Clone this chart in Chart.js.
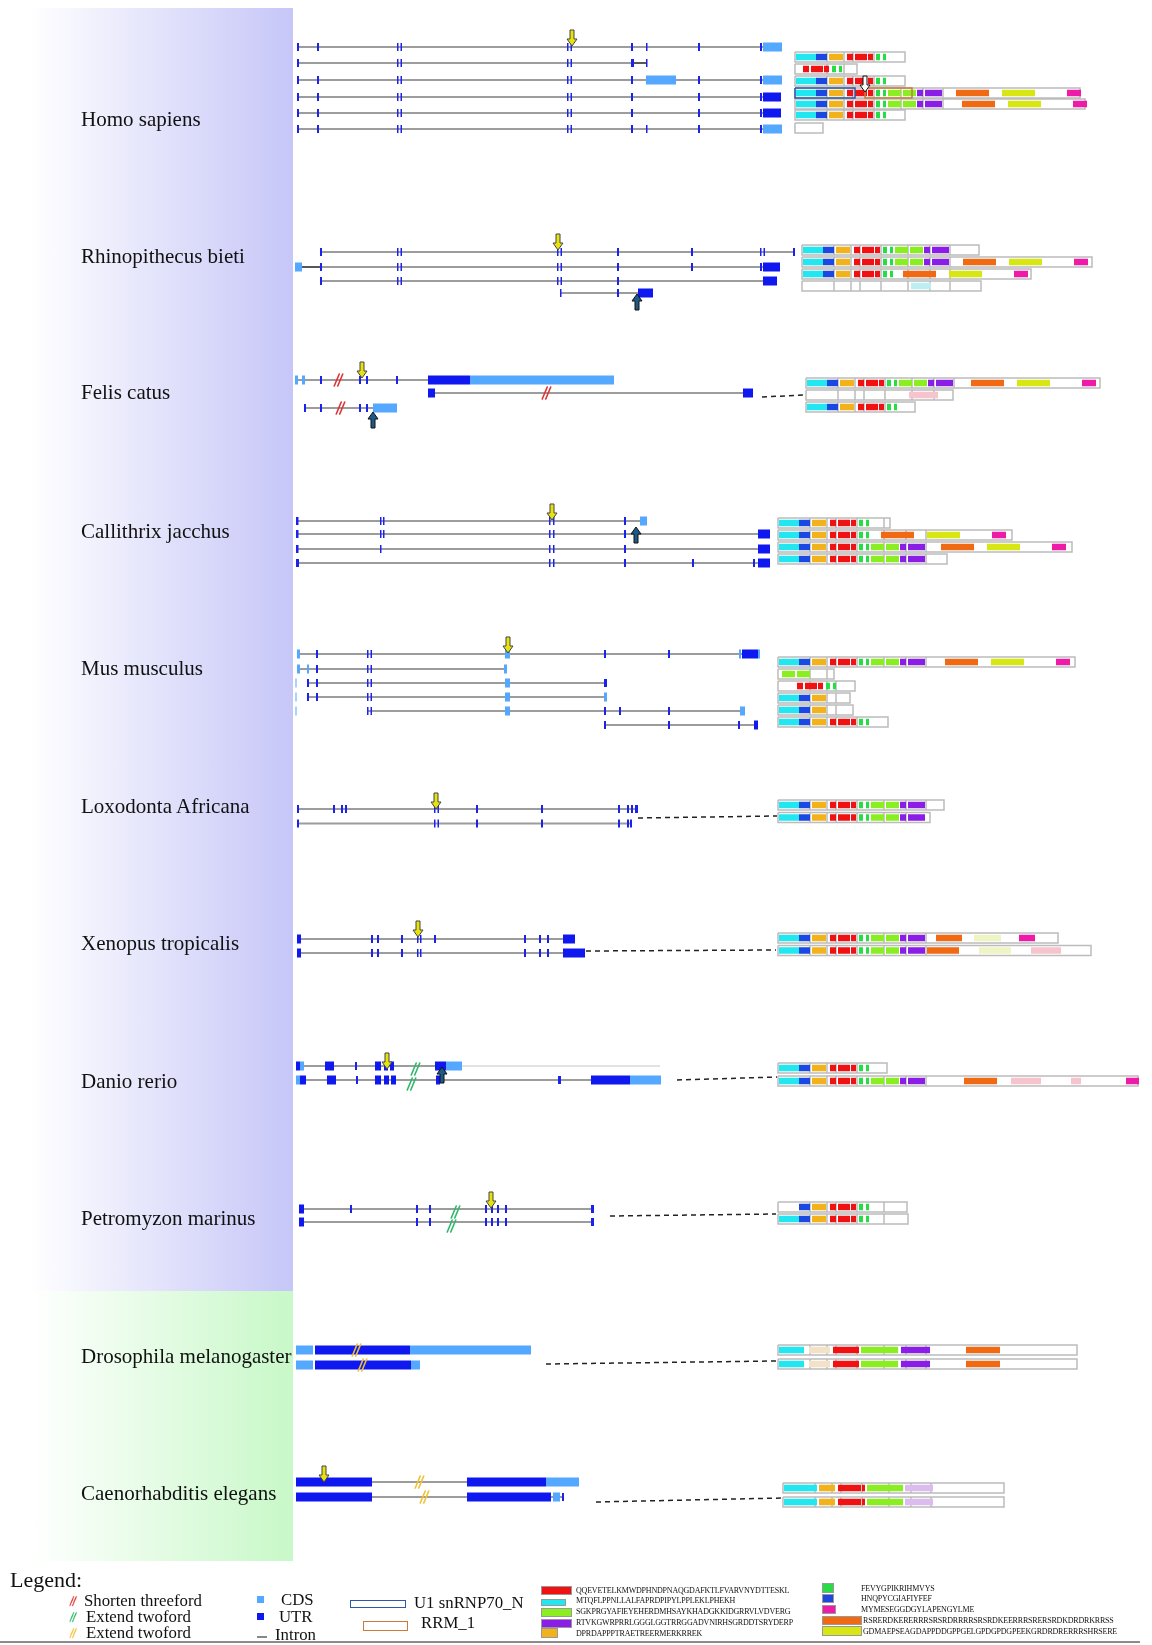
<!DOCTYPE html>
<html>
<head>
<meta charset="utf-8">
<script src="https://cdn.jsdelivr.net/npm/chart.js@4.4.1/dist/chart.umd.min.js"></script>
<style>
  body { margin: 0; width: 1152px; height: 1645px; position: relative; background: #fff; overflow: hidden;
         font-family: "Liberation Serif", "Times New Roman", serif; color: #111; }
  #bandA { position: absolute; left: 30px; top: 8px; width: 263px; height: 1283px; background: linear-gradient(to right, #ffffff, #c6c6f8); }
  #bandB { position: absolute; left: 30px; top: 1291px; width: 263px; height: 270px; background: linear-gradient(to right, #ffffff, #c8f8c8); }
  .sp { position: absolute; left: 81px; font-size: 21px; line-height: 21px; transform: translateY(-50%); white-space: nowrap; }
  #chart { position: absolute; left: 0; top: 0; }
  .lg { position: absolute; white-space: nowrap; font-size: 16.8px; line-height: 17px; transform: translateY(-50%); }
  .seq { position: absolute; white-space: nowrap; font-size: 8px; line-height: 8px; transform: translateY(-50%); letter-spacing: -0.2px; }
  .sw { position: absolute; box-sizing: border-box; border: 1px solid #999; }
  .bx { position: absolute; box-sizing: border-box; }
  #rule { position: absolute; left: 0; top: 1641px; width: 1140px; height: 2px; background: #8c8c8c; }
</style>
</head>
<body>
<div id="bandA"></div>
<div id="bandB"></div>
<canvas id="chart" width="1152" height="1645"></canvas>
<div id="legend"></div>
<div id="rule"></div>
<script>
const speciesNames = ["Homo sapiens", "Rhinopithecus bieti", "Felis catus", "Callithrix jacchus", "Mus musculus",
  "Loxodonta Africana", "Xenopus tropicalis", "Danio rerio", "Petromyzon marinus", "Drosophila melanogaster", "Caenorhabditis elegans"];
const speciesLabelY = [119, 256, 392, 531, 668, 806, 943, 1081, 1218, 1356, 1493];

// transcripts: [row y, intron start, intron end, exons...]; exon = [start, end, 'd' dark | 'l' light]
const homoTx = [
  [47, 297, 782, [297,299,'d'],[317,319,'d'],[397,398.5,'d'],[400.5,402,'d'],[567,568.5,'d'],[570.5,572,'d'],[631,633,'d'],[646,647.5,'d'],[698,700,'d'],[760,762,'d'],[763,782,'l']],
  [63, 297, 634, [297,299,'d'],[397,398.5,'d'],[400.5,402,'d'],[567,568.5,'d'],[570.5,572,'d'],[631,634,'d'],[646,647.5,'d']],
  [80, 297, 782, [297,299,'d'],[317,319,'d'],[397,398.5,'d'],[400.5,402,'d'],[567,568.5,'d'],[570.5,572,'d'],[631,633,'d'],[646,676,'l'],[698,700,'d'],[760,762,'d'],[763,782,'l']],
  [97, 297, 781, [297,299,'d'],[317,319,'d'],[397,398.5,'d'],[400.5,402,'d'],[567,568.5,'d'],[570.5,572,'d'],[631,633,'d'],[698,700,'d'],[760,762,'d'],[763,781,'d']],
  [113, 297, 781, [297,299,'d'],[317,319,'d'],[397,398.5,'d'],[400.5,402,'d'],[567,568.5,'d'],[570.5,572,'d'],[631,633,'d'],[698,700,'d'],[760,762,'d'],[763,781,'d']],
  [129, 297, 782, [297,299,'d'],[317,319,'d'],[397,398.5,'d'],[400.5,402,'d'],[567,568.5,'d'],[570.5,572,'d'],[631,633,'d'],[646,647.5,'d'],[698,700,'d'],[760,762,'d'],[763,782,'l']]
];
const rhinoTx = [
  [252, 321, 794, [320,322,'d'],[397,398.5,'d'],[400.5,402,'d'],[557,558.5,'d'],[560.5,562,'d'],[617,619,'d'],[691,693,'d'],[760,761.5,'d'],[763.5,765,'d'],[793,795,'d']],
  [267, 321, 780, [295,302,'l'],[320,322,'d'],[397,398.5,'d'],[400.5,402,'d'],[557,558.5,'d'],[560.5,562,'d'],[617,619,'d'],[691,693,'d'],[760,762,'d'],[763,780,'d']],
  [281, 321, 777, [320,322,'d'],[397,398.5,'d'],[400.5,402,'d'],[557,558.5,'d'],[560.5,562,'d'],[617,619,'d'],[763,777,'d']],
  [293, 560, 640, [560,561.5,'d'],[617,619,'d'],[638,653,'d']]
];
const felisTx = [
  [380, 295, 614, [295,298,'l'],[302,305,'l'],[320,322,'d'],[359,361,'d'],[366,368,'d'],[396,398,'d'],[428,470,'d'],[470,614,'l']],
  [393, 428, 753, [428,435,'d'],[743,753,'d']],
  [408, 305, 390, [304,306,'d'],[320,322,'d'],[359,361,'d'],[366,368,'d'],[373,397,'l']]
];
const callTx = [
  [521, 297, 647, [296,298.5,'d'],[380,381.5,'d'],[383,384.5,'d'],[549,550.5,'d'],[553,554.5,'d'],[624,626,'d'],[640,647,'l']],
  [534, 297, 770, [296,298.5,'d'],[380,381.5,'d'],[383,384.5,'d'],[549,550.5,'d'],[553,554.5,'d'],[624,626,'d'],[758,770,'d']],
  [549, 297, 770, [296,298.5,'d'],[380,381.5,'d'],[549,550.5,'d'],[553,554.5,'d'],[624,626,'d'],[758,770,'d']],
  [563, 297, 770, [296,299,'d'],[549,550.5,'d'],[553,554.5,'d'],[624,626,'d'],[692,694,'d'],[753,755,'d'],[758,770,'d']]
];
const musTx = [
  [654, 297, 760, [297,300,'l'],[316,318,'d'],[367,368.5,'d'],[370.5,372,'d'],[505,510,'l'],[604,606,'d'],[668,670,'d'],[739,741,'l'],[742,758,'d'],[758,760,'l']],
  [669, 297, 505, [297,300,'l'],[307,309,'l'],[316,318,'d'],[367,368.5,'d'],[370.5,372,'d'],[504,507,'l']],
  [683, 307, 606, [295.5,296.5,'l'],[307,309,'d'],[316,318,'d'],[367,368.5,'d'],[370.5,372,'d'],[505,510,'l'],[604,607,'d']],
  [697, 307, 606, [295.5,296.5,'l'],[307,309,'d'],[316,318,'d'],[367,368.5,'d'],[370.5,372,'d'],[505,510,'l'],[604,607,'l']],
  [711, 367, 745, [295.5,296.5,'l'],[367,368.5,'d'],[370.5,372,'d'],[505,510,'l'],[604,606,'d'],[619,621,'d'],[668,670,'d'],[740,745,'l']],
  [725, 605, 758, [604,606,'d'],[668,670,'d'],[738,740,'d'],[754,758,'d']]
];
const loxoTx = [
  [809, 298, 638, [297,299,'d'],[333,335,'d'],[341,343,'d'],[345,347,'d'],[434,435.5,'d'],[437.5,439,'d'],[476,478,'d'],[541,543,'d'],[618,620,'d'],[627,629,'d'],[631,633,'d'],[635,638,'d']],
  [823.5, 298, 631, [297,299,'d'],[434,435.5,'d'],[437.5,439,'d'],[476,478,'d'],[541,543,'d'],[618,620,'d'],[627,629,'d'],[630,632,'d']]
];
const xenoTx = [
  [939, 298, 575, [297,301,'d'],[371,373,'d'],[377,379,'d'],[401,403,'d'],[417,418.5,'d'],[420,421.5,'d'],[434,436,'d'],[524,526,'d'],[539,541,'d'],[547,549,'d'],[563,575,'d']],
  [953, 298, 585, [297,301,'d'],[371,373,'d'],[377,379,'d'],[401,403,'d'],[417,418.5,'d'],[420,421.5,'d'],[524,526,'d'],[539,541,'d'],[547,549,'d'],[563,585,'d']]
];
const danioTx = [
  [1066, 296, 462, [296,300,'d'],[300,304,'l'],[325,334,'d'],[355,357,'d'],[375,381,'d'],[384,388,'d'],[390,394,'d'],[435,446,'d'],[446,462,'l']],
  [1080, 296, 661, [296,300,'l'],[300,306,'d'],[327,336,'d'],[356,358,'d'],[375,381,'d'],[384,389,'d'],[391,396,'d'],[436,440,'d'],[558,561,'d'],[591,630,'d'],[630,661,'l']]
];
const petroTx = [
  [1209, 300, 593, [299,304,'d'],[350,352,'d'],[416,418,'d'],[429,431,'d'],[485,487,'d'],[491,493,'d'],[497,499,'d'],[505,507,'d'],[591,594,'d']],
  [1222, 300, 593, [299,304,'d'],[416,418,'d'],[429,431,'d'],[485,487,'d'],[491,493,'d'],[497,499,'d'],[505,507,'d'],[591,594,'d']]
];
const drosoTx = [
  [1350, 313, 313, [296,313,'l'],[315,410,'d'],[410,531,'l']],
  [1365, 313, 313, [296,313,'l'],[315,411,'d'],[411,420,'l']]
];
const caenoTx = [
  [1482, 372, 467, [296,372,'d'],[467,546,'d'],[546,579,'l']],
  [1497, 372, 563, [296,372,'d'],[467,551,'d'],[553,560,'l'],[562,564,'d']]
];
const allTx = [homoTx, rhinoTx, felisTx, callTx, musTx, loxoTx, xenoTx, danioTx, petroTx, drosoTx, caenoTx];

// short dark link lines and faint lines: [x1, x2, y]
const darkLinks = [[634, 647, 63], [302, 320, 267]];
const faintLinks = [[462, 660, 1066]];
// dashed connectors gene -> protein: [x1, y1, x2, y2]
const connectors = [[762, 397, 805, 395], [638, 818, 777, 816], [586, 951, 776, 950], [677, 1080, 777, 1077],
  [610, 1216, 776, 1214], [546, 1364, 776, 1361], [596, 1502, 782, 1498]];

// markers: [x, y]
const yellowArrows = [[572, 38], [558, 242], [362, 370], [552, 512], [508, 645], [436, 801], [418, 929], [387, 1061], [491, 1200], [324, 1474]];
const blueArrows = [[637, 302], [373, 420], [636, 535], [442, 1075]];
const hollowArrows = [[865, 84]];
const redSlashes = [[339, 380], [547, 393], [341, 408]];
const greenSlashes = [[416, 1069], [412, 1084], [456, 1212], [452, 1226]];
const yellowSlashes = [[357, 1350], [363, 1365], [420, 1482], [425, 1497]];

// protein domain layout of the longest isoform: [start, end, domain] relative to protein start
const FULL = [[0,20,'cy'],[20,31,'bl'],[33,47,'or'],[51,57,'rd'],[59,71,'rd'],[72,77,'rd'],[80,84,'gr'],[87,90,'gr'],
  [92,105,'li'],[107,120,'li'],[121,127,'pu'],[129,146,'pu'],[160,193,'og'],[206,239,'ye'],[271,285,'mg']];
const dividers = [32, 49, 58, 79, 106, 128, 148];
function part(from, to, shift) { return FULL.slice(from, to).map(d => [d[0] + shift, d[1] + shift, d[2]]); }

// proteins: [x start, row y, length, domains]
const homoProt = [
  [795, 57, 110, part(0, 8, 0)],
  [795, 69, 62, part(3, 8, -44)],
  [795, 81, 110, part(0, 8, 0)],
  [795, 93, 285, part(0, 15, 0)],
  [795, 104, 290, part(0, 12, 0).concat(part(12, 15, 6))],
  [795, 115, 110, part(0, 8, 0)],
  [795, 128, 28, []]
];
const rhinoProt = [
  [802, 250, 177, part(0, 12, 0)],
  [802, 262, 290, part(0, 15, 0)],
  [802, 274, 229, part(0, 8, 0).concat(part(12, 15, -60))],
  [802, 286, 179, [[108, 128, 'pc']]]
];
const felisProt = [
  [806, 383, 294, part(0, 12, 0).concat(part(12, 15, 4))],
  [806, 395, 147, [[102, 131, 'pk']]],
  [806, 407, 109, part(0, 8, 0)]
];
const callProt = [
  [778, 523, 112, part(0, 8, 0)],
  [778, 535, 234, part(0, 8, 0).concat(part(12, 15, -58))],
  [778, 547, 294, part(0, 12, 0).concat(part(12, 15, 2))],
  [778, 559, 169, part(0, 12, 0)]
];
const musProt = [
  [778, 662, 297, part(0, 12, 0).concat(part(12, 15, 6))],
  [778, 674, 56, part(8, 10, -89)],
  [778, 686, 77, part(3, 8, -33)],
  [778, 698, 72, part(0, 3, 0)],
  [778, 710, 75, part(0, 3, 0)],
  [778, 722, 110, part(0, 8, 0)]
];
const loxoProt = [
  [778, 805, 166, part(0, 12, 0)],
  [778, 817.5, 152, part(0, 12, 0)]
];
const xenoProt = [
  [778, 938, 280, part(0, 12, 0).concat([[157, 183, 'og'], [195, 222, 'py'], [240, 256, 'mg']])],
  [778, 950.5, 313, part(0, 12, 0).concat([[148, 180, 'og'], [200, 232, 'py'], [252, 282, 'pk']])]
];
const danioProt = [
  [778, 1068, 109, part(0, 8, 0)],
  [778, 1081, 360, part(0, 12, 0).concat([[185, 218, 'og'], [232, 262, 'pk'], [292, 302, 'pk'], [347, 360, 'mg']])]
];
const petroProt = [
  [778, 1207, 129, part(1, 8, 0)],
  [778, 1219, 130, part(0, 8, 0)]
];
const drosoDomains = [[0, 25, 'cy'], [30, 51, 'pe'], [54, 80, 'rd'], [82, 119, 'li'], [122, 151, 'pu'], [187, 221, 'og']];
const drosoProt = [
  [778, 1350, 299, drosoDomains],
  [778, 1364, 299, drosoDomains]
];
const caenoDomains = [[0, 33, 'cy'], [35, 51, 'or'], [54, 77, 'rd'], [78, 81, 'rd'], [83, 119, 'li'], [121, 149, 'lc']];
const caenoProt = [
  [783, 1488, 221, caenoDomains],
  [783, 1502, 221, caenoDomains]
];
const allProt = [homoProt, rhinoProt, felisProt, callProt, musProt, loxoProt, xenoProt, danioProt, petroProt, drosoProt, caenoProt];

// domain boxes on the first human long isoform: [x1, x2, y, colour key]
const domainBoxes = [[795, 855, 93, 'u1'], [865, 912, 93, 'rrm']];

const colors = {
  cy: "#22e6f0", bl: "#1a48e0", or: "#f2b21c", rd: "#f01212", gr: "#26dd46", li: "#8aee22", pu: "#8a1ee6",
  og: "#f06a14", ye: "#d8e614", mg: "#ee1aa8", pc: "#bdeff2", pk: "#f6c4cc", pe: "#f4e2c8", py: "#eef4c4", lc: "#dcbcee",
  u1: "#2a5aa8", rrm: "#cc7a3a"
};

// ---------- build datasets ----------
const datasets = [];
function addSegments(list, color, width, order, dash) {
  const pts = [];
  list.forEach(s => {
    pts.push({ x: s[0], y: s[2] }, { x: s[1], y: s[2] }, { x: s[1], y: null });
  });
  datasets.push({ data: pts, borderColor: color, borderWidth: width, borderCapStyle: "butt", borderJoinStyle: "miter",
    borderDash: dash || [10000, 0], pointRadius: 0, fill: false, spanGaps: false, tension: 0, order: order });
}
function addPolys(polys, color, width, order, dash) {
  const pts = [];
  polys.forEach(p => { p.forEach(q => pts.push({ x: q[0], y: q[1] })); pts.push({ x: p[p.length - 1][0], y: null }); });
  datasets.push({ data: pts, borderColor: color, borderWidth: width, borderCapStyle: "butt", borderJoinStyle: "miter",
    borderDash: dash || [10000, 0], pointRadius: 0, fill: false, spanGaps: false, tension: 0, order: order });
}
function addMarks(list, img, order) {
  datasets.push({ data: list.map(p => ({ x: p[0], y: p[1] })), showLine: false, pointStyle: img, pointRadius: 6,
    borderWidth: 0, order: order });
}

const introns = [], darkSmall = [], darkBig = [], light = [];
allTx.forEach(sp => sp.forEach(t => {
  const y = t[0];
  if (t[2] > t[1]) introns.push([t[1], t[2], y]);
  t.slice(3).forEach(e => {
    const seg = [e[0], e[1], y];
    if (e[2] === 'l') light.push(seg);
    else if (e[1] - e[0] <= 3) darkSmall.push(seg);
    else darkBig.push(seg);
  });
}));
addSegments(introns, "#9c9c9c", 2, 20);
addSegments(faintLinks, "#e2e2e2", 2, 20);
addSegments(darkLinks, "#222", 1.5, 19);
addSegments(light, "#55a8ff", 9, 18);
addSegments(darkSmall, "#1c22ee", 8, 17);
addSegments(darkBig, "#1018f0", 9, 17);

const outlines = [], bars = {};
allProt.forEach(sp => sp.forEach(p => {
  const x0 = p[0], y = p[1], len = p[2];
  outlines.push([[x0, y - 5], [x0 + len, y - 5], [x0 + len, y + 5], [x0, y + 5], [x0, y - 5]]);
  dividers.filter(d => d < len - 4).forEach(d => outlines.push([[x0 + d, y - 5], [x0 + d, y + 5]]));
  p[3].forEach(d => {
    (bars[d[2]] = bars[d[2]] || []).push([x0 + d[0] + 1, x0 + d[1] + 1, y]);
  });
}));
addPolys(outlines, "#bcbcbc", 1.5, 16);
Object.keys(bars).forEach(k => addSegments(bars[k], colors[k], 6.5, 15));
domainBoxes.forEach(b => addPolys([[[b[0], b[2] - 5], [b[1], b[2] - 5], [b[1], b[2] + 5], [b[0], b[2] + 5], [b[0], b[2] - 5]]], colors[b[3]], 1.5, 14));

addPolys(connectors.map(c => [[c[0], c[1]], [c[2], c[3]]]), "#222", 1.5, 14, [5, 4]);

// marker glyphs
function arrowGlyph(fill, stroke, up) {
  const c = document.createElement("canvas");
  c.width = 12; c.height = 18;
  const g = c.getContext("2d");
  if (up) { g.translate(0, 18); g.scale(1, -1); }
  g.beginPath();
  g.moveTo(4, 1); g.lineTo(8, 1); g.lineTo(8, 10); g.lineTo(11, 10); g.lineTo(6, 17); g.lineTo(1, 10); g.lineTo(4, 10);
  g.closePath();
  g.fillStyle = fill; g.fill();
  g.lineWidth = 1; g.strokeStyle = stroke; g.stroke();
  return c;
}
function slashGlyph(color, n) {
  const c = document.createElement("canvas");
  c.width = 12; c.height = 16;
  const g = c.getContext("2d");
  g.strokeStyle = color; g.lineWidth = 1.6; g.lineCap = "round";
  for (let i = 0; i < n; i++) {
    const o = i * 3.5 - (n - 1) * 1.75;
    g.beginPath(); g.moveTo(3 + o, 14); g.lineTo(8 + o, 2); g.stroke();
  }
  return c;
}
const yArrow = arrowGlyph("#e6e20e", "#444", false);
const bArrow = arrowGlyph("#1f5a86", "#111", true);
const hArrow = arrowGlyph("#ffffff", "#111", false);
const rSlash = slashGlyph("#e03434", 2);
const gSlash = slashGlyph("#2fb86a", 2);
const ySlash = slashGlyph("#f2c030", 2);
addMarks(yellowArrows, yArrow, 1);
addMarks(blueArrows, bArrow, 1);
addMarks(hollowArrows, hArrow, 1);
addMarks(redSlashes, rSlash, 2);
addMarks(greenSlashes, gSlash, 2);
addMarks(yellowSlashes, ySlash, 2);

new Chart(document.getElementById("chart").getContext("2d"), {
  type: "line",
  data: { datasets: datasets },
  options: {
    responsive: false,
    animation: false,
    events: [],
    layout: { padding: 0, autoPadding: false },
    plugins: { legend: { display: false }, tooltip: { enabled: false } },
    scales: {
      x: { type: "linear", display: false, min: 0, max: 1152 },
      y: { type: "linear", display: false, min: 0, max: 1645, reverse: true }
    }
  }
});

// ---------- species labels ----------
speciesNames.forEach((n, i) => {
  const d = document.createElement("div");
  d.className = "sp";
  d.style.top = speciesLabelY[i] + "px";
  d.textContent = n;
  document.body.appendChild(d);
});

// ---------- legend ----------
const legend = document.getElementById("legend");
function put(html) { legend.insertAdjacentHTML("beforeend", html); }
put('<div class="lg" style="left:10px;top:1580px;font-size:22px;line-height:22px">Legend:</div>');
const markLabels = ["Shorten threeford", "Extend twoford", "Extend twoford"];
const markGlyphs = [rSlash, gSlash, ySlash];
const markY = [1600, 1616, 1632];
markLabels.forEach((t, i) => {
  put('<div class="lg" style="left:' + (i === 0 ? 84 : 86) + 'px;top:' + markY[i] + 'px">' + t + '</div>');
  const c = document.createElement("canvas");
  c.width = 12; c.height = 16;
  c.getContext("2d").drawImage(markGlyphs[i], 0, 0);
  c.style.cssText = "position:absolute;left:69px;top:" + (markY[i] - 5) + "px;width:9px;height:12px";
  legend.appendChild(c);
});
put('<div class="bx" style="left:257px;top:1596px;width:7px;height:7px;background:#55a8ff"></div>');
put('<div class="lg" style="left:281px;top:1599px">CDS</div>');
put('<div class="bx" style="left:257px;top:1613px;width:7px;height:7px;background:#1018f0"></div>');
put('<div class="lg" style="left:279px;top:1616px">UTR</div>');
put('<div class="bx" style="left:257px;top:1636px;width:10px;height:2px;background:#888"></div>');
put('<div class="lg" style="left:275px;top:1634px">Intron</div>');
put('<div class="bx" style="left:350px;top:1600px;width:56px;height:8px;border:1.5px solid #2a5aa8"></div>');
put('<div class="lg" style="left:414px;top:1602px">U1 snRNP70_N</div>');
put('<div class="bx" style="left:363px;top:1621px;width:45px;height:10px;border:1.5px solid #cc7a3a"></div>');
put('<div class="lg" style="left:421px;top:1622px">RRM_1</div>');

const seqTexts = ["QQEVETELKMWDPHNDPNAQGDAFKTLFVARVNYDTTESKL", "MTQFLPPNLLALFAPRDPIPYLPPLEKLPHEKH",
  "SGKPRGYAFIEYEHERDMHSAYKHADGKKIDGRRVLVDVERG", "RTVKGWRPRRLGGGLGGTRRGGADVNIRHSGRDDTSRYDERP", "DPRDAPPPTRAETREERMERKRREK",
  "FEVYGPIKRIHMVYS", "HNQPYCGIAFIYFEF", "MYMESEGGDGYLAPENGYLME",
  "RSRERDKERERRRSRSRDRRRRSRSRDKEERRRSRERSRDKDRDRKRRSS", "GDMAEPSEAGDAPPDDGPPGELGPDGPDGPEEKGRDRDRERRRSHRSERE"];
const seqColors = ["rd", "cy", "li", "pu", "or", "gr", "bl", "mg", "og", "ye"];
const swatchBox = [[541, 1586, 31, 9], [541, 1599, 25, 7], [541, 1608, 31, 9], [541, 1619, 31, 9], [541, 1628, 17, 10],
  [822, 1583, 12, 10], [822, 1594, 12, 9], [822, 1605, 14, 9], [822, 1616, 40, 9], [822, 1626, 40, 10]];
const seqX = [576, 576, 576, 576, 576, 861, 861, 861, 863, 863];
const seqY = [1591, 1601, 1612, 1623, 1634, 1589, 1599, 1610, 1621, 1632];
seqTexts.forEach((t, i) => {
  const b = swatchBox[i];
  put('<div class="sw" style="left:' + b[0] + 'px;top:' + b[1] + 'px;width:' + b[2] + 'px;height:' + b[3] + 'px;background:' + colors[seqColors[i]] + '"></div>');
  put('<div class="seq" style="left:' + seqX[i] + 'px;top:' + seqY[i] + 'px">' + t + '</div>');
});
</script>
</body>
</html>
